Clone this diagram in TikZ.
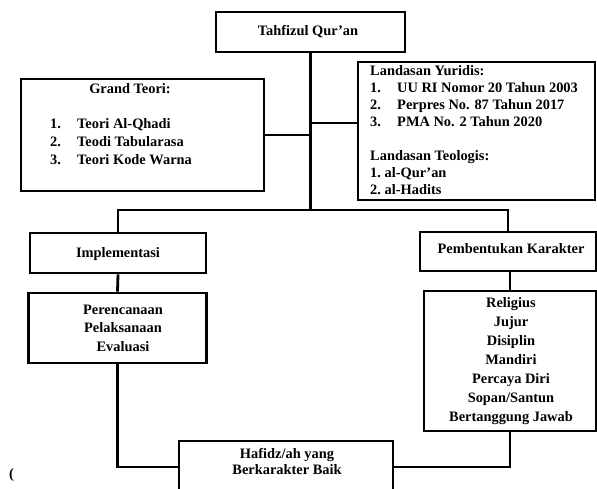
\documentclass[tikz,border=0pt]{standalone}
\usepackage{fontspec}
\setmainfont{Liberation Serif}
\usepackage{tikz}

\begin{document}
\begin{tikzpicture}[x=1pt, y=-1pt,
        box/.style={draw=black, line width=2.8pt, inner sep=0pt},
        link/.style={draw=black, line width=2.8pt},
        txt/.style={inner sep=0pt, font=\bfseries\fontsize{14.4}{17}\selectfont}]
                \useasboundingbox (0, 0) rectangle (597, 488);

                \node[box, minimum width=189pt, minimum height=40pt] (tq) at (310.5, 32) {};
                \node[box, minimum width=243pt, minimum height=112pt] (gt) at (142.5, 135) {};
                \node[box, minimum width=237pt, minimum height=138pt] (ly) at (476.5, 131) {};
                \node[box, minimum width=176pt, minimum height=40pt] (im) at (118, 253) {};
                \node[box, minimum width=178pt, minimum height=70pt] (pr) at (117.5, 328) {};
                \node[box, minimum width=176pt, minimum height=39pt] (pk) at (508, 251.5) {};
                \node[box, minimum width=172pt, minimum height=140pt] (kl) at (510, 361) {};
                \node[box, minimum width=214pt, minimum height=52pt] (hf) at (286, 467) {};

                \node[txt, anchor=base] (tqtxt) at (308, 35) {Tahfizul Qur'an};
                \node[txt, anchor=north] (gttitle) at (130, 83.4) {Grand Teori:};
                \node[txt, anchor=north west, align=left,
                      font=\bfseries\fontsize{14.4}{18}\selectfont] (gtlist) at (50, 118.4) {%
                    \makebox[27pt][l]{1.}Teori Al-Qhadi\\
                    \makebox[27pt][l]{2.}Teodi Tabularasa\\
                    \makebox[27pt][l]{3.}Teori Kode Warna};
                \node[txt, anchor=north west, align=left] (lytxt) at (370, 65.4) {%
                    Landasan Yuridis:\\
                    \makebox[27pt][l]{1.}UU RI Nomor 20 Tahun 2003\\
                    \makebox[27pt][l]{2.}Perpres No. 87 Tahun 2017\\
                    \makebox[27pt][l]{3.}PMA No. 2 Tahun 2020\\[17pt]
                    Landasan Teologis:\\
                    1.~al-Qur'an\\
                    2.~al-Hadits};
                \node[txt, anchor=base] (imtxt) at (118, 257) {Implementasi};
                \node[txt, anchor=north, align=center,
                      font=\bfseries\fontsize{14.4}{18.5}\selectfont] (prtxt) at (123, 304.4) {%
                    Perencanaan\\ Pelaksanaan\\ Evaluasi};
                \node[txt, anchor=base] (pktxt) at (511, 253) {Pembentukan Karakter};
                \node[txt, anchor=north, align=center,
                      font=\bfseries\fontsize{14.4}{19}\selectfont] (kltxt) at (511, 297.4) {%
                    Religius\\ Jujur\\ Disiplin\\ Mandiri\\ Percaya Diri\\ Sopan/Santun\\ Bertanggung Jawab};
                \node[txt, anchor=north, align=center,
                      font=\bfseries\fontsize{14.4}{16}\selectfont] (hftxt) at (287, 448.4) {%
                    Hafidz/ah yang\\ Berkarakter Baik};
                \node[txt, anchor=base west] (paren) at (9, 478) {(};

                \coordinate (hub) at (311, 210);
                \coordinate (lyjoin) at (311, 123);
                \draw[link] (tq.south) -- (tq.south |- hub);
                \draw[link] (gt.east) -- (gt.east -| hub);
                \draw[link] (ly.west |- lyjoin) -- (lyjoin);
                \draw[link] (im.north) |- (hub) -| (pk.north);
                \draw[link] (im.south) -- (pr.north);
                \draw[link] (pk.south -| kl.north) -- (kl.north);
                \draw[link] (pr.south) |- (hf.west);
                \draw[link] (kl.south) |- (hf.east);
            \end{tikzpicture}
\end{document}
